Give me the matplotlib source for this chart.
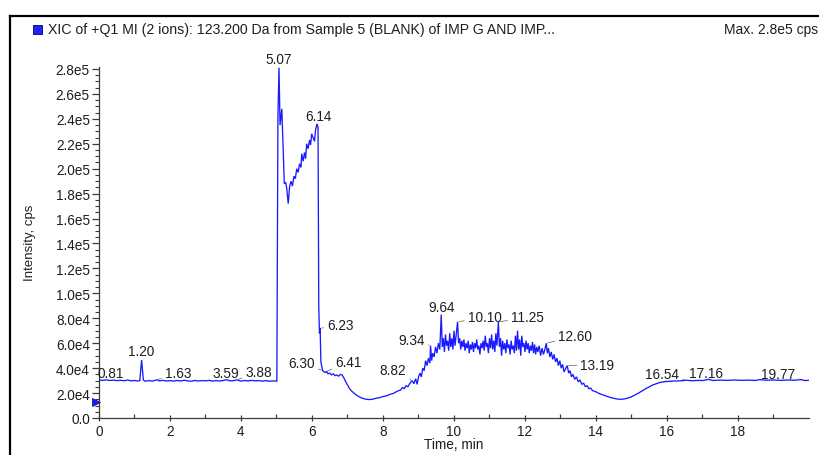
import numpy as np
import matplotlib
matplotlib.use("Agg")
import matplotlib.pyplot as plt
from matplotlib.lines import Line2D
from matplotlib.patches import Rectangle

# ---------------- data ----------------
time_min = [
    0.00, 0.10, 0.20, 0.30, 0.40, 0.50, 0.60, 0.70, 0.81, 0.90, 1.00, 1.10, 1.15, 1.20, 1.25,
    1.30, 1.40, 1.50, 1.63, 1.70, 1.80, 1.90, 2.00, 2.10, 2.20, 2.30, 2.40, 2.50, 2.60, 2.70,
    2.80, 2.90, 3.00, 3.10, 3.20, 3.30, 3.40, 3.50, 3.59, 3.70, 3.80, 3.88, 4.00, 4.10, 4.20,
    4.30, 4.40, 4.50, 4.60, 4.70, 4.80, 4.90, 5.00,
    5.01, 5.04, 5.07, 5.10, 5.15, 5.18, 5.22, 5.26, 5.29, 5.33, 5.37, 5.41, 5.45, 5.49, 5.53,
    5.57, 5.61, 5.65, 5.69, 5.71, 5.75, 5.79, 5.82, 5.85, 5.89, 5.93, 5.96, 5.99, 6.03, 6.07,
    6.10, 6.14, 6.17, 6.19, 6.21, 6.23, 6.25, 6.30, 6.34, 6.38, 6.41, 6.45, 6.50, 6.55, 6.60,
    6.65, 6.70, 6.75, 6.80, 6.85, 6.90, 6.95, 7.00, 7.05, 7.10, 7.20, 7.30, 7.40, 7.50, 7.60,
    7.70, 7.80, 7.90, 8.00, 8.10, 8.20, 8.30, 8.40, 8.50, 8.55, 8.60, 8.65, 8.70, 8.75, 8.82,
    8.87, 8.92, 8.96, 9.00, 9.04, 9.08, 9.12, 9.16, 9.20, 9.24, 9.28, 9.32, 9.34, 9.37, 9.40,
    9.44, 9.48, 9.52, 9.56, 9.60, 9.64, 9.67, 9.70, 9.73, 9.76, 9.79, 9.82, 9.85, 9.88, 9.91,
    9.94, 9.97, 10.00, 10.03, 10.06, 10.10, 10.13, 10.16, 10.19, 10.22, 10.25, 10.28, 10.31,
    10.34, 10.37, 10.40, 10.43, 10.46, 10.49, 10.52, 10.55, 10.58, 10.61, 10.64, 10.67, 10.70,
    10.73, 10.76, 10.79, 10.82, 10.85, 10.88, 10.91, 10.94, 10.97, 11.00, 11.03, 11.06, 11.09,
    11.12, 11.15, 11.18, 11.21, 11.25, 11.28, 11.31, 11.34, 11.37, 11.40, 11.43, 11.46, 11.49,
    11.52, 11.55, 11.58, 11.61, 11.64, 11.67, 11.70, 11.73, 11.76, 11.79, 11.82, 11.85, 11.88,
    11.91, 11.94, 11.97, 12.00, 12.03, 12.06, 12.09, 12.12, 12.15, 12.18, 12.21, 12.24, 12.27,
    12.30, 12.33, 12.36, 12.40, 12.44, 12.48, 12.52, 12.56, 12.60, 12.63, 12.66, 12.70, 12.74,
    12.78, 12.82, 12.86, 12.90, 12.94, 12.98, 13.02, 13.06, 13.10, 13.15, 13.19, 13.23, 13.27,
    13.31, 13.35, 13.40, 13.45, 13.50, 13.55, 13.60, 13.65, 13.70, 13.75, 13.80, 13.85, 13.90,
    14.00, 14.10, 14.20, 14.30, 14.40, 14.50, 14.60, 14.70, 14.80, 14.90, 15.00, 15.10, 15.20,
    15.30, 15.40, 15.50, 15.60, 15.70, 15.80, 15.90, 16.00, 16.20, 16.40, 16.54, 16.70, 16.90,
    17.00, 17.16, 17.30, 17.50, 17.70, 17.90, 18.10, 18.30, 18.50, 18.60, 18.80, 19.00, 19.20,
    19.40, 19.60, 19.77, 19.90, 20.00,
]
intensity_cps = [
    30500, 30200, 30600, 30100, 30400, 30000, 30300, 29900, 30400, 29800, 30100, 29700, 30000, 46500, 30500,
    29500, 30000, 29600, 30600, 29800, 30200, 29700, 30000, 29600, 30100, 29700, 30300, 29800, 29500, 30100,
    29700, 30000, 29800, 30200, 29600, 30000, 29700, 30100, 30700, 29800, 30000, 30600, 29600, 30100, 29700,
    30200, 29800, 30000, 29600, 30000, 29500, 29800, 29500,
    29500, 240000, 281000, 235000, 248000, 222000, 188000, 189000, 184000, 172000, 186000, 190000, 186000, 194000, 192000,
    200000, 197000, 204000, 201000, 212000, 206000, 213000, 208000, 220000, 216000, 223000, 219000, 228000, 225000, 222000,
    231000, 236000, 233000, 90000, 68000, 72000, 45000, 38000, 37000, 36500, 37500, 35500, 36000, 34500, 35500,
    34000, 34500, 33500, 35000, 34500, 32000, 29000, 26500, 24000, 22000, 19500, 17500, 16000, 15200, 14800,
    15000, 15800, 16300, 17200, 17800, 19000, 19800, 21500, 22500, 24500, 23500, 26000, 25000, 27500, 30000,
    27500, 31500, 27000, 33000, 36000, 33000, 40000, 38000, 46000, 42000, 48000, 44000, 58000, 46000, 52000,
    49000, 57000, 52000, 60000, 55000, 83000, 57000, 64000, 53000, 67000, 58000, 62000, 54000, 68000, 57000,
    64000, 55000, 70000, 58000, 66000, 77000, 60000, 64000, 55000, 62000, 57000, 63000, 54000,
    60000, 56000, 62000, 52000, 59000, 55000, 61000, 53000, 60000, 56000, 63000, 55000, 58000,
    51000, 60000, 56000, 62000, 54000, 66000, 57000, 60000, 52000, 64000, 56000, 67000, 55000,
    62000, 53000, 68000, 58000, 77000, 57000, 64000, 50000, 62000, 55000, 60000, 52000, 63000,
    56000, 59000, 51000, 62000, 55000, 58000, 52000, 66000, 54000, 70000, 55000, 63000, 50000,
    66000, 57000, 60000, 53000, 62000, 55000, 60000, 52000, 58000, 54000, 61000, 52000, 59000,
    51000, 57000, 53000, 58000, 50000, 56000, 51000, 55000, 60000, 52000, 56000, 49000, 53000,
    47000, 51000, 45000, 48000, 42000, 46000, 40000, 43000, 37000, 40000, 42000, 36000, 38000,
    33000, 35000, 31000, 33000, 29000, 30500, 27000, 28000, 25000, 26000, 23500, 24000, 22000,
    21000, 19500, 18500, 17500, 16500, 15800, 15200, 15000, 15300, 16000, 17000, 18500, 20000,
    21800, 23500, 25000, 26500, 27500, 28500, 29000, 29300, 29700, 29800, 30300, 29900, 30200,
    30000, 31000, 30100, 30400, 30200, 30500, 30200, 30400, 30100, 30800, 30300, 30500, 30200,
    30500, 30300, 30800, 30000, 30300,
]

peak_rt = [0.81, 1.20, 1.63, 3.59, 3.88, 5.07, 6.14, 6.23, 6.30, 6.41, 8.82, 9.34, 9.64,
           10.10, 11.25, 12.60, 13.19, 16.54, 17.16, 19.77]
peak_text = ["0.81", "1.20", "1.63", "3.59", "3.88", "5.07", "6.14", "6.23", "6.30", "6.41",
             "8.82", "9.34", "9.64", "10.10", "11.25", "12.60", "13.19", "16.54", "17.16", "19.77"]

x_ticks = [0, 2, 4, 6, 8, 10, 12, 14, 16, 18]
x_tick_labels = ["0", "2", "4", "6", "8", "10", "12", "14", "16", "18"]
y_ticks = [0, 20000, 40000, 60000, 80000, 100000, 120000, 140000, 160000, 180000,
           200000, 220000, 240000, 260000, 280000]
y_tick_labels = ["0.0", "2.0e4", "4.0e4", "6.0e4", "8.0e4", "1.0e5", "1.2e5", "1.4e5",
                 "1.6e5", "1.8e5", "2.0e5", "2.2e5", "2.4e5", "2.6e5", "2.8e5"]

title_text = "XIC of +Q1 MI (2 ions): 123.200 Da from Sample 5 (BLANK) of IMP G AND IMP..."
max_text = "Max. 2.8e5 cps"
x_label = "Time, min"
y_label = "Intensity, cps"

# ---------------- style / layout ----------------
W, H = 820, 456
plt.rcParams['font.family'] = ['Liberation Sans', 'DejaVu Sans']
TXT = '#1e1e1e'
FS = 9.8
AXC = '#3c3c3c'

# label offsets in pixels (dx, dy, connector?)
label_offsets = [(-17, 7, True), (0, 2, False), (21, 7, True), (-1, 0, False), (22, 8, True),
                 (0, 2, False), (1, 1, False), (20, 3, True), (-21, 8, True), (22, 9, True),
                 (-19, 11, True), (-19, 6, True), (0, 1, False), (27, 5, True), (29, 5, True),
                 (29, 7, True), (30, 1, True), (-24, 6, True), (-2, -1, False), (-23, 6, True)]

fig = plt.figure(figsize=(W / 100, H / 100), dpi=100)
ax = fig.add_axes([99 / W, 1 - 419 / H, (809 - 99) / W, (419 - 67.5) / H])

ax.plot(time_min, intensity_cps, color='#1a1aff', lw=0.95, solid_joinstyle='miter')
ax.set_xlim(0, 20)
ax.set_ylim(0, 282000)

for s in ['top', 'right']:
    ax.spines[s].set_visible(False)
for s in ['left', 'bottom']:
    ax.spines[s].set_color(AXC)
    ax.spines[s].set_linewidth(0.9)

ax.set_xticks(x_ticks)
ax.set_xticklabels(x_tick_labels)
ax.set_xticks(np.arange(1, 20, 2), minor=True)
ax.set_yticks(y_ticks)
ax.set_yticklabels(y_tick_labels)
ax.set_yticks(np.arange(0, 282001, 5000), minor=True)
ax.tick_params(axis='x', which='major', direction='inout', length=5, width=0.9,
               color=AXC, labelsize=FS, labelcolor=TXT, pad=2)
ax.tick_params(axis='x', which='minor', direction='in', length=3, width=0.9, color=AXC)
ax.tick_params(axis='y', which='major', direction='out', length=5, width=0.9,
               color=AXC, labelsize=FS, labelcolor=TXT, pad=1.5)
ax.tick_params(axis='y', which='minor', direction='out', length=3, width=0.8, color=AXC)

ax.set_xlabel(x_label, fontsize=FS, color=TXT, labelpad=-1)
ax.set_ylabel(y_label, fontsize=FS - 0.3, color=TXT, labelpad=14)

t_arr = np.array(time_min)
for rt, txt, (dx, dy, conn) in zip(peak_rt, peak_text, label_offsets):
    idx = int(np.argmin(np.abs(t_arr - rt)))
    y = intensity_cps[idx]
    kw = dict(textcoords='offset pixels', fontsize=FS, color=TXT, ha='center',
              va='center' if conn else 'bottom', annotation_clip=False)
    if conn:
        kw['arrowprops'] = dict(arrowstyle='-', color='#777777', lw=0.6,
                                shrinkA=0.5, shrinkB=1,
                                connectionstyle='arc3,rad=0.0')
    ax.annotate(txt, xy=(rt, y), xytext=(dx, dy), **kw)

# blue marker on the y axis
ax.plot([-0.09], [12800], marker='>', color='#1a1aff', markersize=6, clip_on=False,
        markeredgecolor='#000088', markeredgewidth=0.5)

# frame
fig.add_artist(Line2D([10 / W, 10 / W], [0, 1 - 17 / H], color='black', lw=1.6,
                      transform=fig.transFigure))
fig.add_artist(Line2D([10 / W, 1], [1 - 17 / H, 1 - 17 / H], color='black', lw=1.6,
                      transform=fig.transFigure))

# header
fig.add_artist(Rectangle((33 / W, 1 - 35 / H), 9 / W, 9 / H, facecolor='#2020ff',
                         edgecolor='#000066', lw=0.6, transform=fig.transFigure))
fig.text(48 / W, 1 - 30 / H, title_text, fontsize=10.2, color=TXT, ha='left', va='center')
fig.text(818 / W, 1 - 30 / H, max_text, fontsize=10.0, color=TXT, ha='right', va='center')

fig.savefig('out.png', dpi=100, facecolor='white')
